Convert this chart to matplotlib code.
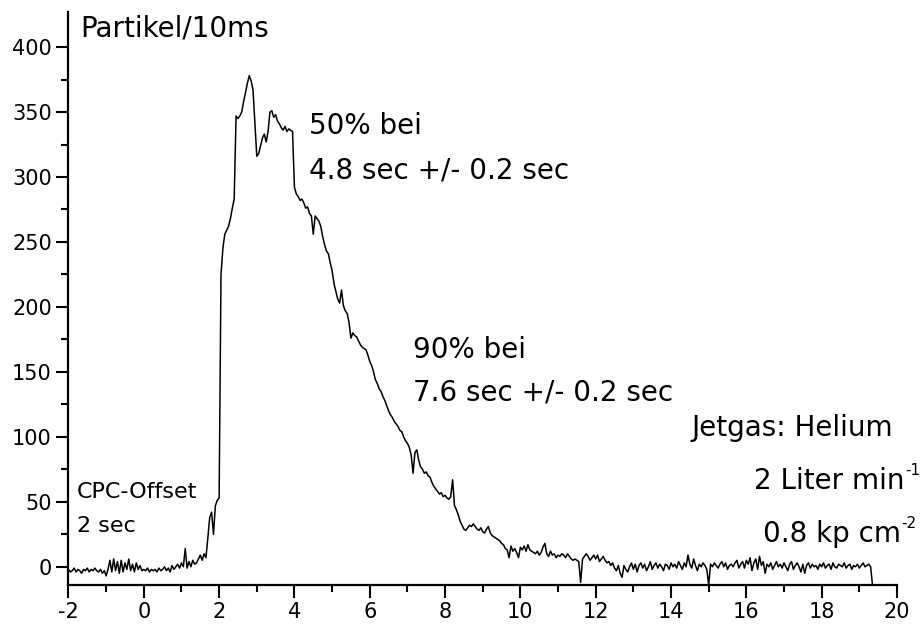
import numpy as np
import matplotlib
matplotlib.use("Agg")
import matplotlib.pyplot as plt

# CPC counts per 10 ms, every 0.05 s
step = 0.05

t_pre0 = -2.0
counts_pre = [-2, -4, -3, -1, -4, -2, -3, -5, -2, -3, -1, -4, -2, -3, -1, -3, -4, -2, -5, -3,
              -7, -2, 5, -4, 6, -3, 4, -5, 5, -4, 3, -2, 6, -3, 2, -4, 3, -2, 1, -3,
              -2, -3, -1, -4, -2, -3, -2, -4, -1, -3, -2, 0, -3, -1, -4, 1, -2, 0,
              2, -1, 3, 0, 14, -1, 4, 0, 5, 2, 3, 6, 9, 5, 10, 7]

t_peak0 = 1.70
counts_peak = [22, 38, 42, 25, 47, 51, 53, 225, 245, 256, 259, 262, 268, 276, 283, 347, 345, 347, 350, 358,
               365, 372, 378, 374, 367, 342, 316, 318, 324, 330, 333, 327, 335, 350, 351, 346, 348, 343, 341, 338,
               336, 339, 335, 337, 336, 335, 292, 287, 285, 282, 283, 280, 276, 277, 272, 270, 256, 270, 268, 266,
               262, 254, 248, 243, 241, 234, 228, 218, 212, 206, 203, 213, 201, 197, 195, 188, 176, 180, 178, 177,
               174, 171, 169, 168, 167, 163, 158, 155, 150, 144, 141, 137, 135, 131, 128, 124, 120, 117, 115, 112,
               110, 108, 105, 104, 100, 97, 95, 92, 86, 72, 88, 90, 82, 77, 75, 72, 73, 70, 69, 65,
               62, 60, 58, 56, 57, 54, 55, 53, 52, 54, 67, 47, 44, 40, 35, 32, 29, 28, 30, 32,
               31, 33, 31, 29, 28, 30, 27, 26, 29, 31, 26, 24, 23, 22, 21, 20, 18, 17, 14, 13,
               7, 16, 12, 14, 11, 7, 15, 13, 16, 12, 17, 13, 12, 11, 10, 12, 9, 11, 15, 18,
               10, 8, 12, 9, 10, 7, 9, 8, 10, 9, 7, 10, 8, 6, 5, 6, 5, 4, -12, 6,
               8, 10, 8, 5, 7, 9, 6, 9, 4, 6, 8, 5, 3, 4, 1, 3, -1, -3, 1, -5, -8, 1, -2, -4]

t_tail0 = 12.90
counts_tail = [0, 3, -2, 2, -4, 1, 3, -1, 2, -3, 0, 4, -2, 1, 3, -1, 2, 0, -3, 2,
               1, -2, 3, 0, 2, -1, 4, 1, -2, 3, 0, 9, 2, -1, 6, 1, -3, 2, 0, 3,
               1, -2, -14, 2, 0, 3, 1, -1, 2, 4, 0, 3, -2, 1, 2, 0, 3, 5, -1, 2,
               4, -1, 5, 2, 7, -3, 3, 6, -2, 8, 1, 4, -5, 2, 0, 3, -2, 1, 4, 0,
               2, -1, 3, 0, -3, 2, 4, -2, 1, 3, 0, -4, 2, -5, 1, 3, -1, 2, 0, 1,
               -2, 2, 0, 3, -1, 1, 2, -2, 3, 0, -1, 2, 1, 0, 3, -1, 1, 2, -2, 1,
               0, 2, -1, 1, 3, 0, 1, 2, 0, -14]


def times(t0, vals):
    return t0 + step * np.arange(len(vals))


t = np.concatenate([times(t_pre0, counts_pre), times(t_peak0, counts_peak), times(t_tail0, counts_tail)])
y = np.concatenate([counts_pre, counts_peak, counts_tail])

plt.rcParams["font.family"] = "DejaVu Sans"
plt.rcParams["axes.unicode_minus"] = False

fig = plt.figure(figsize=(9.23, 6.32), dpi=100)
ax = fig.add_axes([0.0742, 0.0744, 0.8976, 0.9066])

ax.plot(t, y, color="black", lw=1.1)

ax.set_xlim(-2, 20)
ax.set_ylim(-14, 427)
ax.set_xticks(np.arange(-2, 21, 2))
ax.set_xticks(np.arange(-1, 20, 2), minor=True)
ax.set_yticks(np.arange(0, 401, 50))
ax.set_yticks(np.arange(25, 401, 50), minor=True)

for side in ["top", "right"]:
    ax.spines[side].set_visible(False)
for side in ["left", "bottom"]:
    ax.spines[side].set_linewidth(1.6)

ax.tick_params(which="major", direction="out", length=9, width=1.5, labelsize=15, pad=3)
ax.tick_params(which="minor", direction="out", length=5, width=1.5)

ax.text(-1.69, 408, "Partikel/10ms", fontsize=20, va="baseline")
ax.text(4.38, 333, "50% bei", fontsize=20, va="baseline")
ax.text(4.38, 299, "4.8 sec +/- 0.2 sec", fontsize=20, va="baseline")
ax.text(7.14, 161, "90% bei", fontsize=20, va="baseline")
ax.text(7.14, 128, "7.6 sec +/- 0.2 sec", fontsize=20, va="baseline")
ax.text(19.89, 101, "Jetgas: Helium", fontsize=20, va="baseline", ha="right")
# units with small raised exponents
ax.text(20.2, 60, "2 Liter min", fontsize=20, va="baseline", ha="right")
ax.text(20.22, 71, "-1", fontsize=11, va="baseline", ha="left")
ax.text(20.1, 19, "0.8 kp cm", fontsize=20, va="baseline", ha="right")
ax.text(20.12, 30, "-2", fontsize=11, va="baseline", ha="left")
ax.text(-1.78, 53, "CPC-Offset", fontsize=16, va="baseline")
ax.text(-1.78, 27, "2 sec", fontsize=16, va="baseline")

fig.savefig("out.png", dpi=100)
